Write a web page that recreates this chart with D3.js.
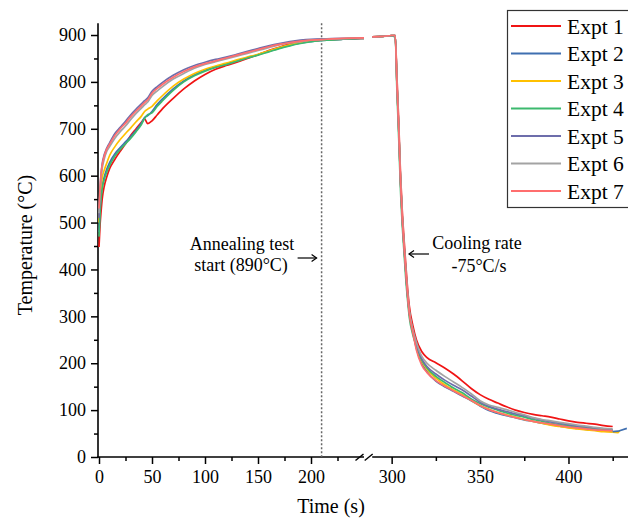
<!DOCTYPE html>
<html>
<head>
<meta charset="utf-8">
<script src="https://cdn.jsdelivr.net/npm/d3@7/dist/d3.min.js"></script>
<style>
  html, body { margin: 0; padding: 0; background: #fff; }
  svg { display: block; font-family: "Times New Roman", "Liberation Serif", serif; }
</style>
</head>
<body>
<svg id="chart" width="628" height="527"></svg>
<script>
// ---- Data -------------------------------------------------------------
const seriesNames = ["Expt 1", "Expt 2", "Expt 3", "Expt 4", "Expt 5", "Expt 6", "Expt 7"];
const seriesColors = ["#f01414", "#3f6fb0", "#ffc000", "#3cb96e", "#6d6dab", "#a3a3a3", "#ff6e6e"];

// Heating stage, time in s (left axis segment)
const heatTime = [0, 1, 2, 3, 5, 7, 10, 15, 20, 25, 30, 35, 40, 43, 46, 50, 55, 60, 70, 80, 90, 100, 110, 120, 130, 140, 150, 160, 170, 180, 190, 200, 215, 230, 250];
const heat1 = [448, 495, 525, 550, 578, 595, 615, 635, 652, 668, 686, 700, 714, 721, 711, 717, 730, 743, 765, 785, 802, 816, 827, 835, 842, 850, 858, 867, 874, 881, 885, 888, 890, 891, 893];
const heat2 = [480, 530, 560, 578, 598, 612, 628, 647, 660, 672, 684, 697, 712, 724, 728, 737, 752, 764, 785, 802, 815, 825, 832, 838, 845, 852, 858, 865, 872, 878, 883, 886, 889, 891, 893];
const heat3 = [500, 545, 575, 595, 612, 625, 643, 662, 677, 690, 702, 715, 727, 737, 742, 748, 760, 771, 791, 806, 818, 827, 834, 840, 847, 853, 859, 866, 873, 879, 884, 887, 890, 892, 894];
const heat4 = [470, 520, 552, 572, 592, 606, 622, 642, 656, 668, 680, 694, 709, 722, 730, 734, 748, 760, 782, 800, 813, 823, 831, 837, 844, 851, 857, 864, 871, 877, 882, 886, 889, 891, 893];
const heat5 = [510, 570, 605, 625, 645, 657, 670, 690, 703, 716, 730, 742, 753, 760, 766, 780, 790, 799, 814, 826, 835, 842, 848, 853, 859, 865, 871, 877, 882, 886, 889, 891, 892, 893, 894];
const heat6 = [520, 565, 595, 615, 636, 650, 662, 680, 694, 706, 720, 733, 744, 751, 757, 771, 781, 790, 806, 818, 829, 837, 843, 849, 855, 861, 867, 873, 879, 883, 886, 889, 891, 892, 894];
const heat7 = [530, 575, 605, 622, 642, 655, 667, 686, 700, 712, 726, 738, 749, 756, 762, 776, 786, 795, 810, 822, 832, 839, 845, 851, 857, 863, 869, 875, 880, 884, 887, 889, 891, 893, 894];

// Hold and quench stage, time in s (right axis segment)
const coolTime = [289, 295, 300, 302, 303, 304, 305, 306, 307, 308, 309, 310, 312, 314, 317, 320, 325, 330, 335, 340, 345, 350, 355, 360, 365, 370, 375, 380, 385, 390, 395, 400, 405, 410, 415, 420, 425];
const cool1 = [896, 897, 899, 899, 810, 715, 605, 525, 465, 410, 360, 322, 280, 250, 225, 212, 201, 190, 177, 162, 146, 133, 123, 115, 107, 100, 95, 91, 88, 85, 81, 77, 74, 72, 70, 67, 65];
const cool2 = [896, 897, 899, 899, 795, 700, 590, 510, 450, 395, 345, 308, 268, 232, 200, 182, 162, 150, 140, 130, 120, 109, 99, 93, 88, 84, 79, 76, 72, 69, 66, 63, 61, 59, 57, 56, 54];
const cool3 = [896, 897, 899, 899, 795, 700, 590, 510, 450, 395, 345, 308, 268, 235, 205, 187, 168, 154, 143, 133, 121, 110, 102, 95, 90, 85, 80, 76, 72, 68, 65, 62, 60, 58, 56, 54, 53];
const cool4 = [896, 897, 898, 895, 780, 680, 570, 495, 437, 380, 335, 298, 260, 236, 207, 190, 172, 159, 147, 137, 124, 114, 106, 100, 94, 89, 85, 80, 76, 72, 69, 67, 64, 62, 60, 58, 57];
const cool5 = [896, 897, 899, 899, 795, 700, 590, 510, 450, 395, 345, 308, 268, 240, 210, 193, 177, 164, 153, 143, 130, 117, 108, 102, 97, 92, 88, 83, 79, 75, 72, 69, 66, 64, 62, 60, 58];
const cool6 = [896, 897, 899, 899, 800, 705, 595, 515, 455, 400, 352, 312, 272, 245, 215, 200, 185, 172, 160, 148, 135, 120, 111, 106, 101, 95, 90, 84, 80, 77, 74, 71, 68, 66, 63, 61, 60];
const cool7 = [896, 897, 899, 899, 795, 700, 590, 510, 450, 395, 345, 305, 265, 228, 196, 180, 163, 151, 141, 131, 121, 110, 101, 95, 89, 84, 80, 76, 73, 70, 67, 64, 62, 60, 58, 57, 56];

// Short tails after the end of the quench log
const tail2Time = [425, 428, 433];
const tail2 = [54, 55, 61];
const tail3Time = [425, 428, 429];
const tail3 = [53, 52, 56];

const heatSeries = [heat1, heat2, heat3, heat4, heat5, heat6, heat7];
const coolSeries = [cool1, cool2, cool3, cool4, cool5, cool6, cool7];

// Axis ticks
const leftMajor = [0, 50, 100, 150, 200];
const leftMinor = [25, 75, 125, 175, 225];
const rightMajor = [300, 350, 400];
const rightMinor = [325, 375, 425];
const yMajor = [0, 100, 200, 300, 400, 500, 600, 700, 800, 900];
const yMinor = [50, 150, 250, 350, 450, 550, 650, 750, 850];
const annealStart = 210;

// ---- Scales -----------------------------------------------------------
const svg = d3.select("#chart");
const xL = d3.scaleLinear().domain([0, 250]).range([99, 364]);
const xR = d3.scaleLinear().domain([289, 434]).range([372.2, 628.6]);
const y = d3.scaleLinear().domain([0, 925]).range([457, 23.3]);

const axisY0 = y(0);
const serif = "'Times New Roman', 'Liberation Serif', serif";

// ---- Axes -------------------------------------------------------------
function styleAxis(g) {
  g.attr("font-family", serif);
  g.select(".domain").remove();
  g.selectAll(".tick line").attr("stroke", "#000").attr("stroke-width", 1.5);
  g.selectAll(".tick text").attr("font-size", 18).attr("fill", "#000");
}

const gx = svg.append("g");
gx.append("g").attr("transform", `translate(0,${axisY0})`)
  .call(d3.axisBottom(xL).tickValues(leftMajor).tickSize(7).tickPadding(6).tickFormat(d3.format("d")))
  .call(styleAxis);
gx.append("g").attr("transform", `translate(0,${axisY0})`)
  .call(d3.axisBottom(xL).tickValues(leftMinor).tickSize(4).tickFormat(""))
  .call(styleAxis);
gx.append("g").attr("transform", `translate(0,${axisY0})`)
  .call(d3.axisBottom(xR).tickValues(rightMajor).tickSize(7).tickPadding(6).tickFormat(d3.format("d")))
  .call(styleAxis);
gx.append("g").attr("transform", `translate(0,${axisY0})`)
  .call(d3.axisBottom(xR).tickValues(rightMinor).tickSize(4).tickFormat(""))
  .call(styleAxis);

const gy = svg.append("g").attr("transform", `translate(${xL(0) - 1},0)`);
gy.append("g").call(d3.axisLeft(y).tickValues(yMajor).tickSize(7).tickPadding(5)).call(styleAxis);
gy.append("g").call(d3.axisLeft(y).tickValues(yMinor).tickSize(4).tickFormat("")).call(styleAxis);

// Axis lines with a break between the two time segments
svg.append("line").attr("x1", xL(0) - 1).attr("x2", xL(0) - 1)
  .attr("y1", y(925)).attr("y2", axisY0 + 0.75)
  .attr("stroke", "#000").attr("stroke-width", 1.6);
svg.append("line").attr("x1", xL(0) - 1.8).attr("x2", xL(250))
  .attr("y1", axisY0).attr("y2", axisY0)
  .attr("stroke", "#000").attr("stroke-width", 1.6);
svg.append("line").attr("x1", xR(289)).attr("x2", xR(434))
  .attr("y1", axisY0).attr("y2", axisY0)
  .attr("stroke", "#000").attr("stroke-width", 1.6);
const brk = svg.append("g").attr("stroke", "#000").attr("stroke-width", 1.4);
[xL(250) - 4.5, xR(289) - 3.5].forEach(cx => {
  brk.append("line").attr("x1", cx - 4).attr("y1", axisY0 + 3.5)
    .attr("x2", cx + 4).attr("y2", axisY0 - 3);
});

// Axis titles
svg.append("text").attr("x", 331).attr("y", 513).attr("text-anchor", "middle")
  .attr("font-size", 20).text("Time (s)");
svg.append("text").attr("transform", "translate(32,245) rotate(-90)")
  .attr("text-anchor", "middle").attr("font-size", 20).text("Temperature (°C)");

// ---- Annealing start marker ------------------------------------------
svg.append("line").attr("x1", xL(annealStart)).attr("x2", xL(annealStart))
  .attr("y1", y(925)).attr("y2", axisY0)
  .attr("stroke", "#666").attr("stroke-width", 1.5).attr("stroke-dasharray", "2,2");

// ---- Curves -----------------------------------------------------------
const lineL = d3.line().x(d => xL(d[0])).y(d => y(d[1])).curve(d3.curveMonotoneX);
const lineR = d3.line().x(d => xR(d[0])).y(d => y(d[1])).curve(d3.curveMonotoneX);
const lineRaw = d3.line().x(d => xR(d[0])).y(d => y(d[1]));

const gLines = svg.append("g").attr("fill", "none").attr("stroke-width", 1.7)
  .attr("stroke-linejoin", "round");
seriesNames.forEach((name, i) => {
  gLines.append("path").attr("stroke", seriesColors[i])
    .attr("d", lineL(heatTime.map((t, k) => [t, heatSeries[i][k]])));
  gLines.append("path").attr("stroke", seriesColors[i])
    .attr("d", lineR(coolTime.map((t, k) => [t, coolSeries[i][k]])));
});
gLines.append("path").attr("stroke", seriesColors[2])
  .attr("d", lineRaw(tail3Time.map((t, k) => [t, tail3[k]])));
gLines.append("path").attr("stroke", seriesColors[1])
  .attr("d", lineRaw(tail2Time.map((t, k) => [t, tail2[k]])));

// ---- Annotations ------------------------------------------------------
function arrow(x1, x2, yy) {
  const g = svg.append("g").attr("stroke", "#000").attr("stroke-width", 1.2).attr("fill", "none");
  g.append("line").attr("x1", x1).attr("x2", x2).attr("y1", yy).attr("y2", yy);
  const dir = Math.sign(x2 - x1);
  g.append("path").attr("d", `M${x2 - dir * 5},${yy - 3.5}L${x2},${yy}L${x2 - dir * 5},${yy + 3.5}`);
}
svg.append("text").attr("x", 242).attr("y", 250).attr("text-anchor", "middle")
  .attr("font-size", 18).text("Annealing test");
svg.append("text").attr("x", 241).attr("y", 271).attr("text-anchor", "middle")
  .attr("font-size", 18).text("start (890°C)");
arrow(xL(annealStart) - 24, xL(annealStart) - 5, 258);

svg.append("text").attr("x", 477).attr("y", 249).attr("text-anchor", "middle")
  .attr("font-size", 18).text("Cooling rate");
svg.append("text").attr("x", 479).attr("y", 272).attr("text-anchor", "middle")
  .attr("font-size", 18).text("-75°C/s");
arrow(429, 409, 254);

// ---- Legend -----------------------------------------------------------
const leg = svg.append("g");
leg.append("rect").attr("x", 507.5).attr("y", 10.5).attr("width", 130).attr("height", 197)
  .attr("fill", "#fff").attr("stroke", "#333").attr("stroke-width", 1.2);
seriesNames.forEach((name, i) => {
  const yy = 26 + i * 27.5;
  leg.append("line").attr("x1", 511).attr("x2", 561).attr("y1", yy).attr("y2", yy)
    .attr("stroke", seriesColors[i]).attr("stroke-width", 2);
  leg.append("text").attr("x", 567).attr("y", yy).attr("dy", "0.35em")
    .attr("font-size", 21.5).text(name);
});
</script>
</body>
</html>
